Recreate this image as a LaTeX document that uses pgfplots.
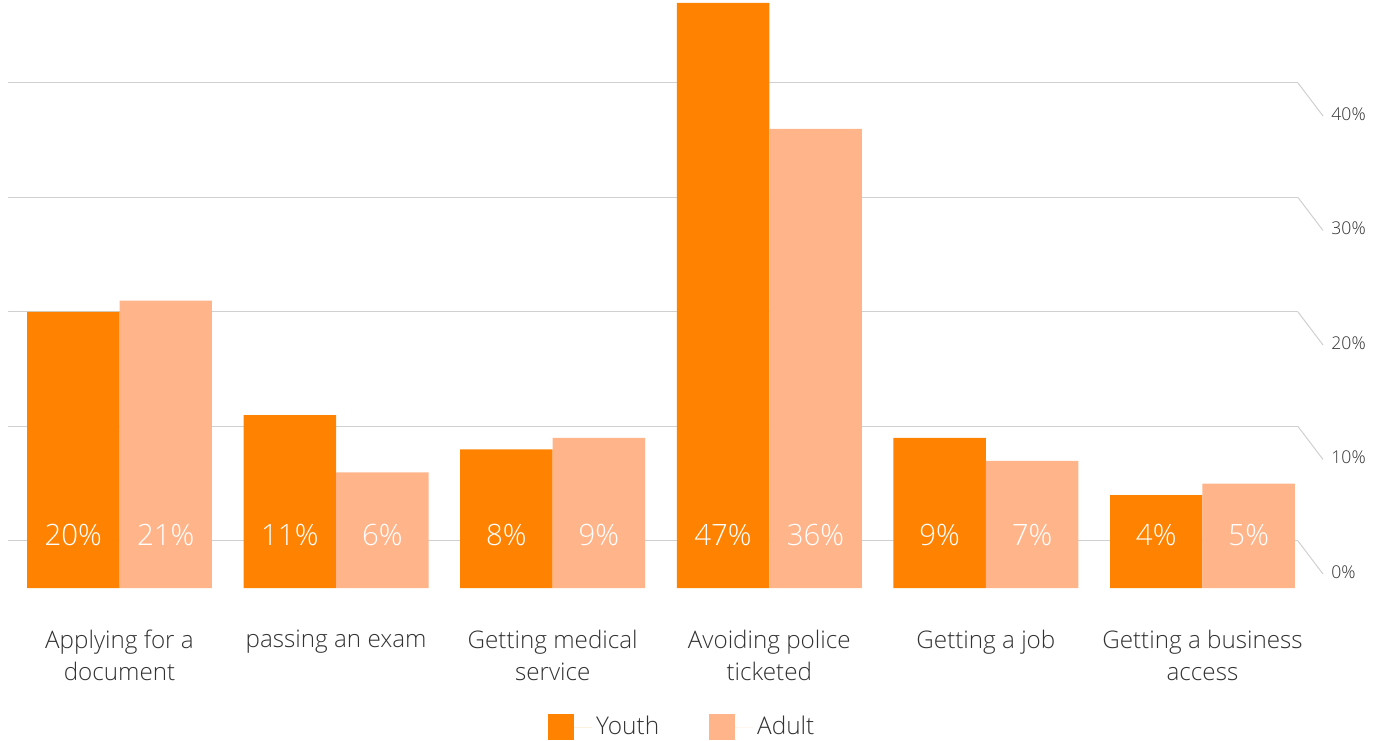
\documentclass[border=0pt]{standalone}
\usepackage{pgfplots}
\pgfplotsset{compat=1.18}
\usepackage{pgfplotstable}
\usepackage{fontspec}
\IfFontExistsTF{Open Sans Light}{\setmainfont{Open Sans Light}}{\setmainfont{Open Sans}}

\definecolor{youth}{RGB}{255,130,0}
\definecolor{adult}{RGB}{255,180,138}
\definecolor{txt}{RGB}{50,50,50}
\definecolor{gridc}{RGB}{208,208,208}

% share of respondents (%) per situation
\pgfplotstableread{
x v
0 20
1 11
2 8
3 47
4 9
5 4
}\youthdata
\pgfplotstableread{
x v
0 21
1 6
2 9
3 36
4 7
5 5
}\adultdata

% slanted leader from a grid line to its value label on the right
\newcommand{\rightlabel}[2]{%
  \draw[gridc, line width=0.5pt] (axis cs:5.441,#1) -- ++(12.5pt,-16.5pt);
  \node[anchor=west, inner sep=0pt, text=txt, font=\fontsize{8.8}{10}\selectfont]
    at ([xshift=16.5pt, yshift=-15.5pt]axis cs:5.441,#1) {#2\%};
}

\begin{document}
\begin{tikzpicture}
\useasboundingbox (0,0) rectangle (691.5pt,370pt);
\begin{axis}[
  at={(4pt,76pt)}, anchor=south west,
  width=645pt, height=294pt, scale only axis,
  xmin=-0.5148, xmax=5.441, ymin=0, ymax=51.35,
  clip=false,
  /pgf/number format/assume math mode=true,
  axis line style={draw=none}, tick style={draw=none},
  % floor of the chart sits 4.105 units above the bar bases
  ytick={4.105,14.105,24.105,34.105,44.105}, yticklabels={},
  ymajorgrids, grid style={gridc, line width=0.5pt},
  xtick={0,1,2,3,4,5},
  xticklabels={{Applying for a\\document},{passing an exam},{Getting medical\\service},{Avoiding police\\ticketed},{Getting a job},{Getting a business\\access}},
  xticklabel style={align=center, text=txt, font=\fontsize{12.1}{16}\selectfont, yshift=-17.6pt},
  legend columns=2,
  legend style={at={(0.5235,-0.2364)}, anchor=center, draw=none, fill=none,
    font=\fontsize{12.2}{16}\selectfont, text=txt,
    /tikz/every even column/.append style={column sep=23pt}},
  legend image code/.code={\fill[#1] (0pt,-6.5pt) rectangle (13pt,6.5pt); \path (0pt,0pt) -- (22pt,0pt);},
]
\addplot[ybar, bar width=0.427, bar shift=-0.2135, fill=youth, draw=none,
  y filter/.expression={y+4.105}] table[x=x,y=v]{\youthdata};
\addlegendentry{Youth}
\addplot[ybar, bar width=0.427, bar shift=0.2135, fill=adult, draw=none,
  y filter/.expression={y+4.105}] table[x=x,y=v]{\adultdata};
\addlegendentry{Adult}

% value labels inside the bars, on a common line near the base
\addplot[draw=none, no marks, forget plot,
  x filter/.expression={x-0.2135}, y filter/.expression={4.63},
  point meta=\thisrow{v},
  nodes near coords={\pgfmathprintnumber{\pgfplotspointmeta}\%},
  every node near coord/.style={anchor=center, text=white, font=\fontsize{14.7}{16}\selectfont}]
  table[x=x,y=v]{\youthdata};
\addplot[draw=none, no marks, forget plot,
  x filter/.expression={x+0.2135}, y filter/.expression={4.63},
  point meta=\thisrow{v},
  nodes near coords={\pgfmathprintnumber{\pgfplotspointmeta}\%},
  every node near coord/.style={anchor=center, text=white, font=\fontsize{14.7}{16}\selectfont}]
  table[x=x,y=v]{\adultdata};

\rightlabel{4.105}{0}
\rightlabel{14.105}{10}
\rightlabel{24.105}{20}
\rightlabel{34.105}{30}
\rightlabel{44.105}{40}
\end{axis}
\end{tikzpicture}
\end{document}
